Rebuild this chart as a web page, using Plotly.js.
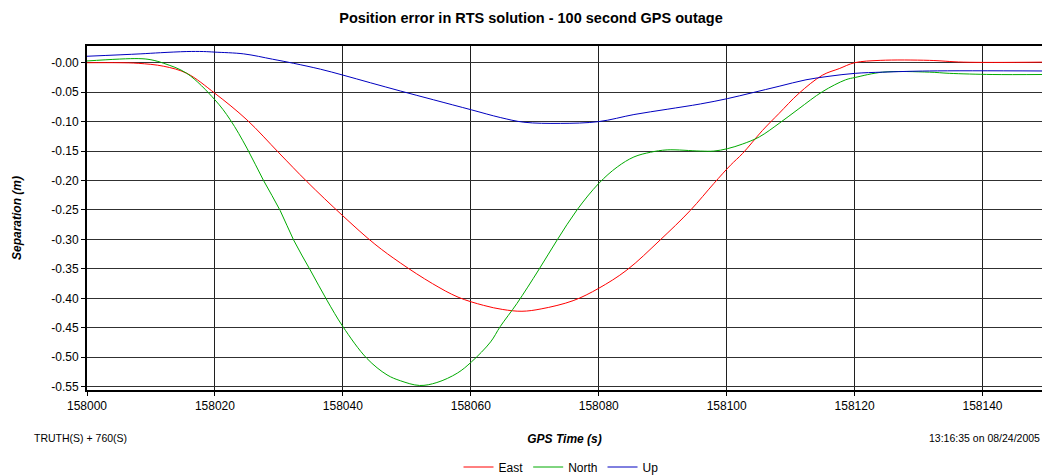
<!DOCTYPE html>
<html>
<head>
<meta charset="utf-8">
<script src="https://cdn.plot.ly/plotly-3.0.1.min.js"></script>
<style>html,body{margin:0;padding:0;background:#fff;}#chart{width:1042px;height:475px;}</style>
</head>
<body>
<div id="chart"></div>
<script>
// GPS time (s) and separation (m) for each component
var eastTime = [158000,158005,158008,158012,158015.6,158020,158025,158030,158034.4,158040,158045,158049,158054,158058,158062,158065,158068,158071,158076,158080,158084.4,158089.6,158094.3,158098,158100.6,158102.5,158105.6,158108.2,158111.3,158115,158117.6,158120,158124,158131.7,158137,158149.3];
var eastSep  = [0.000,0.000,-0.001,-0.006,-0.018,-0.052,-0.097,-0.153,-0.202,-0.260,-0.308,-0.340,-0.375,-0.398,-0.412,-0.419,-0.422,-0.418,-0.404,-0.383,-0.352,-0.301,-0.251,-0.205,-0.174,-0.154,-0.115,-0.086,-0.052,-0.021,-0.010,0.000,0.004,0.004,0.001,0.001];

var northTime = [158000,158008,158010,158012,158015.6,158020,158022.4,158025,158027.6,158030.2,158032.3,158034.9,158037.5,158040,158043.75,158046.9,158049,158052,158054.7,158057.9,158060.1,158063.1,158064.6,158067.2,158070.6,158073.5,158076.6,158080,158082.9,158085.5,158088.1,158090.7,158095.9,158098,158100.1,158102.5,158105.1,158108.2,158111.3,158115,158118.6,158120.1,158124.4,158131.7,158134.8,158141.5,158149.3];
var northSep  = [0.003,0.007,0.005,-0.001,-0.018,-0.063,-0.097,-0.145,-0.200,-0.251,-0.301,-0.352,-0.403,-0.448,-0.502,-0.530,-0.540,-0.548,-0.543,-0.527,-0.508,-0.474,-0.448,-0.409,-0.352,-0.301,-0.250,-0.205,-0.177,-0.160,-0.152,-0.148,-0.150,-0.150,-0.146,-0.138,-0.126,-0.103,-0.078,-0.049,-0.029,-0.025,-0.016,-0.016,-0.018,-0.020,-0.020];

var upTime = [158000,158008.3,158011.5,158015.6,158018.2,158020,158024.5,158029,158032.3,158036.5,158040,158044.3,158049,158054.2,158060.1,158064.6,158068.3,158074,158080,158085.5,158090.7,158095.9,158100.1,158104,158108.2,158112.4,158116,158120.1,158124.4,158131.7,158149.3];
var upSep  = [0.011,0.015,0.017,0.019,0.019,0.018,0.015,0.006,-0.001,-0.011,-0.021,-0.034,-0.048,-0.063,-0.080,-0.093,-0.101,-0.103,-0.100,-0.088,-0.079,-0.070,-0.061,-0.051,-0.040,-0.029,-0.023,-0.018,-0.016,-0.014,-0.014];

var yTickVals = [0,-0.05,-0.10,-0.15,-0.20,-0.25,-0.30,-0.35,-0.40,-0.45,-0.50,-0.55];
var yTickText = ["-0.00","-0.05","-0.10","-0.15","-0.20","-0.25","-0.30","-0.35","-0.40","-0.45","-0.50","-0.55"];
var xTickVals = [158000,158020,158040,158060,158080,158100,158120,158140];

var FONT = "Liberation Sans, Arial, sans-serif";

var traces = [
  {x: eastTime, y: eastSep, name: "East", mode: "lines", line: {color: "#ff0000", width: 1, shape: "spline", smoothing: 1}},
  {x: northTime, y: northSep, name: "North", mode: "lines", line: {color: "#00aa00", width: 1, shape: "spline", smoothing: 1}},
  {x: upTime, y: upSep, name: "Up", mode: "lines", line: {color: "#0000c0", width: 1, shape: "spline", smoothing: 1}}
];

var layout = {
  width: 1042, height: 475,
  paper_bgcolor: "#ffffff", plot_bgcolor: "#ffffff",
  margin: {l: 87, r: 0, t: 46, b: 85, pad: 0},
  font: {family: FONT, size: 12, color: "#000"},
  title: {text: "<b>Position error in RTS solution - 100 second GPS outage</b>", font: {family: FONT, size: 14.5, color: "#000"},
          x: 531/1042, xref: "container", xanchor: "center", y: 1 - 18/475, yref: "container", yanchor: "middle"},
  xaxis: {
    range: [158000, 158149.3], tickvals: xTickVals, ticktext: xTickVals.map(String),
    showgrid: true, gridcolor: "#202020", gridwidth: 1,
    showline: true, linecolor: "#000", linewidth: 2, mirror: true,
    ticks: "outside", ticklen: 4, tickcolor: "#000", tickwidth: 1,
    tickfont: {family: FONT, size: 12, color: "#000"},
    zeroline: false,
    title: {text: "<b><i>GPS Time (s)</i></b>", font: {family: FONT, size: 12, color: "#000"}, standoff: 22}
  },
  yaxis: {
    range: [-0.5557, 0.0284], tickvals: yTickVals, ticktext: yTickText,
    showgrid: true, gridcolor: "#303030", gridwidth: 1,
    showline: true, linecolor: "#000", linewidth: 2, mirror: true,
    ticks: "outside", ticklen: 4, tickcolor: "#000", tickwidth: 1,
    tickfont: {family: FONT, size: 12, color: "#000"},
    zeroline: false,
    title: {text: "<b><i>Separation (m)</i></b>", font: {family: FONT, size: 12, color: "#000"}, standoff: 27}
  },
  showlegend: true,
  legend: {orientation: "h", x: 561/1042, xref: "container", xanchor: "center", y: 1 - 467/475, yref: "container", yanchor: "middle",
           font: {family: FONT, size: 12, color: "#000"}, bgcolor: "rgba(0,0,0,0)", itemwidth: 30, tracegroupgap: 0},
  annotations: [
    {text: "TRUTH(S) + 760(S)", xref: "paper", yref: "paper", x: (32-87)/955, y: (390-438)/344, xanchor: "left", yanchor: "middle", showarrow: false, font: {family: FONT, size: 10.5, color: "#000"}},
    {text: "13:16:35 on 08/24/2005", xref: "paper", yref: "paper", x: 1, y: (390-438)/344, xanchor: "right", yanchor: "middle", showarrow: false, font: {family: FONT, size: 10.5, color: "#000"}}
  ]
};

Plotly.newPlot("chart", traces, layout, {displayModeBar: false, staticPlot: true});
</script>
</body>
</html>
